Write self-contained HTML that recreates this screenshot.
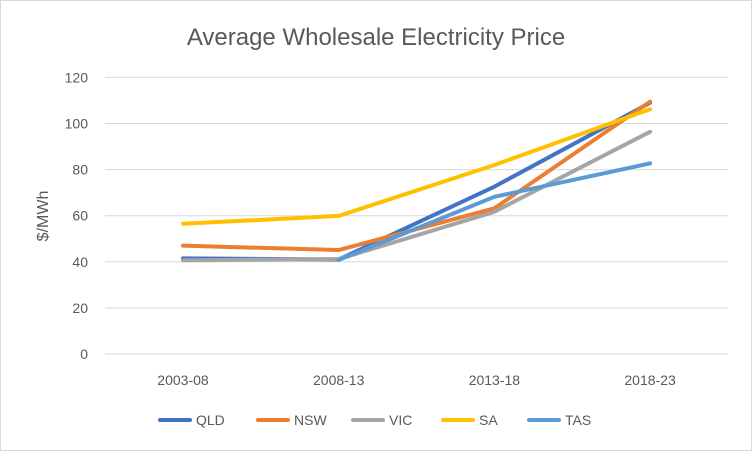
<!DOCTYPE html>
<html><head><meta charset="utf-8"><style>
body{margin:0;background:#fff;font-family:"Liberation Sans",sans-serif}
svg text{font-family:"Liberation Sans",sans-serif;fill:#595959}
</style></head><body>
<svg width="752" height="451">
<rect x="0.5" y="0.5" width="751" height="450" fill="#fff" stroke="#d9d9d9"/>
<text x="376" y="45" text-anchor="middle" font-size="24">Average Wholesale Electricity Price</text>
<text transform="translate(48,216) rotate(-90)" text-anchor="middle" font-size="16">$/MWh</text>
<g id="grid"></g><g id="series"></g><g id="legend"></g>
</svg>
<script>
const categories=["2003-08","2008-13","2013-18","2018-23"];
const yTicks=[0,20,40,60,80,100,120];
const names=["QLD","NSW","VIC","SA","TAS"];
const colors=["#4472c4","#ed7d31","#a5a5a5","#ffc000","#5b9bd5"];
const qld=[41.5,41,72.6,109];
const nsw=[47,45.1,63.2,109.5];
const vic=[40.6,41.2,61.7,96.4];
const sa=[56.5,59.9,82,106.2];
const tas=[null,40.8,68.2,82.7];
const seriesVals=[qld,nsw,vic,sa,tas];
const ns="http://www.w3.org/2000/svg";
const x=i=>183+i*155.7, y=v=>354-v*46.1/20;
const grid=document.getElementById('grid');
yTicks.forEach(t=>{
 const l=document.createElementNS(ns,'line');
 l.setAttribute('x1',105);l.setAttribute('x2',728);l.setAttribute('y1',y(t));l.setAttribute('y2',y(t));
 l.setAttribute('stroke','#d9d9d9');
 
 
 grid.appendChild(l);
 const tx=document.createElementNS(ns,'text');
 tx.setAttribute('x',88);tx.setAttribute('y',y(t)+5);tx.setAttribute('text-anchor','end');tx.setAttribute('font-size','14');
 tx.textContent=t;
 
 
 grid.appendChild(tx);
});
categories.forEach((c,i)=>{
 const tx=document.createElementNS(ns,'text');
 tx.setAttribute('x',x(i));tx.setAttribute('y',385);tx.setAttribute('text-anchor','middle');tx.setAttribute('font-size','14');
 tx.textContent=c;
 
 
 grid.appendChild(tx);
});
const sg=document.getElementById('series');
seriesVals.forEach((vals,s)=>{
 const pts=[];vals.forEach((v,i)=>{if(v!==null)pts.push(x(i)+','+y(v));});
 const p=document.createElementNS(ns,'polyline');
 p.setAttribute('points',pts.join(' '));p.setAttribute('fill','none');p.setAttribute('stroke',colors[s]);
 p.setAttribute('stroke-width','4');p.setAttribute('stroke-linejoin','round');p.setAttribute('stroke-linecap','round');
 
 
 sg.appendChild(p);
});
const lg=document.getElementById('legend');
const lx=[160,258,353,443,529];
names.forEach((n,i)=>{
 const g=document.createElementNS(ns,'g');
 
 
 const l=document.createElementNS(ns,'line');
 l.setAttribute('x1',lx[i]);l.setAttribute('x2',lx[i]+30);l.setAttribute('y1',420);l.setAttribute('y2',420);
 l.setAttribute('stroke',colors[i]);l.setAttribute('stroke-width','4');l.setAttribute('stroke-linecap','round');
 g.appendChild(l);
 const t=document.createElementNS(ns,'text');
 t.setAttribute('x',lx[i]+36);t.setAttribute('y',425);t.setAttribute('font-size','14');t.textContent=n;
 g.appendChild(t);
 lg.appendChild(g);
});
</script>
</body></html>
